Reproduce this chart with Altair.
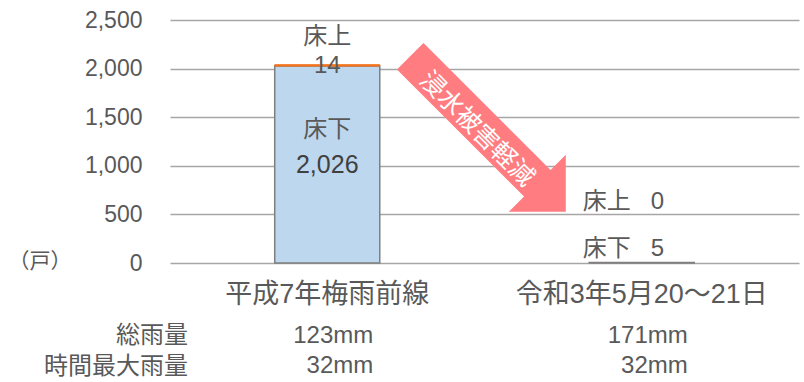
import altair as alt
import pandas as pd

# ---- data ----
categories = ["平成7年梅雨前線", "令和3年5月20～21日"]
series_names = ["床下", "床上"]
under_floor = [2026, 5]
above_floor = [14, 0]
row_titles = ["総雨量", "時間最大雨量"]
total_rain = ["123mm", "171mm"]
max_hourly_rain = ["32mm", "32mm"]
y_ticks = [0, 500, 1000, 1500, 2000, 2500]
unit_label = "（戸）"
arrow_label = "浸水被害軽減"

df = pd.DataFrame({
    "category": categories,
    "under": under_floor,
    "above": above_floor,
    "total_rain": total_rain,
    "max_rain": max_hourly_rain,
})
df["top"] = df["under"] + df["above"]
df["mid"] = df["under"] / 2
df["under_txt"] = df["under"].map(lambda v: f"{v:,}")
df["above_txt"] = df["above"].map(str)
NB = "\u00a0" * 3
df["above_line"] = series_names[1] + NB + df["above_txt"]
df["under_line"] = series_names[0] + NB + df["under_txt"]
df["idx"] = list(range(len(df)))
df["above_name"] = series_names[1]
df["under_name"] = series_names[0]

FONT = "Liberation Sans, Arial, Noto Sans CJK JP, sans-serif"
CJK = "Noto Sans CJK JP, sans-serif"
GREY = "#595959"

x_scale = alt.Scale(domain=categories, paddingInner=0.666, paddingOuter=0.333)
x_axis = alt.Axis(title=None, labelFontSize=27, labelColor=GREY, labelFont=FONT,
                  labelPadding=18, ticks=False, domain=False, labelAngle=0,
                  labelLimit=0, grid=False)
y_scale = alt.Scale(domain=[0, 2500], nice=False)
y_axis = alt.Axis(title=None, values=y_ticks, format=",.0f", labelFontSize=23,
                  labelColor=GREY, labelFont=FONT, labelPadding=28, ticks=False,
                  domain=False, grid=True, gridColor="#A6A6A6", gridWidth=1.3)


def X():
    return alt.X("category:N", scale=x_scale, axis=x_axis, sort=categories)


def Y(field):
    return alt.Y(field, scale=y_scale, axis=y_axis)


base = alt.Chart(df)

under_bar = base.mark_bar(fill="#BDD7EE", stroke="#7F7F7F", strokeWidth=1.5).encode(
    x=X(), y=Y("under:Q"))
above_bar = base.transform_filter(alt.datum.above > 0).mark_bar(
    fill="#F4731C", stroke="#F4731C", strokeWidth=1).encode(
    x=X(), y=Y("under:Q"), y2="top:Q")

first = base.transform_filter(alt.datum.idx == 0)
second = base.transform_filter(alt.datum.idx == 1)

lab_kw = dict(fontSize=24, font=FONT, color=GREY)
t_above_name = first.mark_text(dy=-28, **lab_kw).encode(x=X(), y=Y("top:Q"), text="above_name:N")
t_above_val = first.mark_text(dy=1, **lab_kw).encode(x=X(), y=Y("top:Q"), text="above_txt:N")
t_under_name = first.mark_text(dy=-35, **lab_kw).encode(x=X(), y=Y("mid:Q"), text="under_name:N")
t_under_val = first.mark_text(dy=0, fontSize=25, font=FONT, color="#404040").encode(
    x=X(), y=Y("mid:Q"), text="under_txt:N")
t2_above = second.mark_text(align="left", dx=-59, dy=-61, **lab_kw).encode(
    x=X(), y=Y("top:Q"), text="above_line:N")
t2_under = second.mark_text(align="left", dx=-59, dy=-14, **lab_kw).encode(
    x=X(), y=Y("top:Q"), text="under_line:N")

# rainfall rows below the axis
rain_kw = dict(fontSize=24, font=FONT, color=GREY, align="right", dx=46)
rain1 = base.mark_text(**rain_kw).encode(x=X(), y=alt.value(316), text="total_rain:N")
rain2 = base.mark_text(**rain_kw).encode(x=X(), y=alt.value(346), text="max_rain:N")

rows = pd.DataFrame({"title": row_titles, "r": [0, 1]})
row_kw = dict(fontSize=24, font=CJK, color=GREY, align="right")
row1 = alt.Chart(rows).transform_filter(alt.datum.r == 0).mark_text(**row_kw).encode(
    x=alt.value(18), y=alt.value(316), text="title:N")
row2 = alt.Chart(rows).transform_filter(alt.datum.r == 1).mark_text(**row_kw).encode(
    x=alt.value(18), y=alt.value(347), text="title:N")

unit = alt.Chart(pd.DataFrame({"u": [unit_label]})).mark_text(
    fontSize=21, font=CJK, color=GREY).encode(x=alt.value(-130), y=alt.value(242), text="u:N")

# arrow annotation (custom symbol pointing right, rotated 45 degrees)
arrow_path = ("M -1 -0.1705 L 0.634 -0.1705 L 0.634 -0.366 L 1 0 "
              "L 0.634 0.366 L 0.634 0.1705 L -1 0.1705 Z")
arrow_df = pd.DataFrame({"label": [arrow_label]})
arrow = alt.Chart(arrow_df).mark_point(
    shape=arrow_path, size=220 * 220, filled=True, fill="#FF7C80", opacity=1,
    fillOpacity=1, strokeWidth=0, angle=45).encode(
    x=alt.value(488 - 170), y=alt.value(134 - 20))
arrow_text = alt.Chart(arrow_df).mark_text(
    angle=45, fontSize=25, font=CJK, color="white").encode(
    x=alt.value(477 - 170), y=alt.value(129 - 20), text="label:N")

chart = alt.layer(
    under_bar, above_bar, arrow, arrow_text,
    t_above_name, t_above_val, t_under_name, t_under_val, t2_above, t2_under,
    rain1, rain2, row1, row2, unit,
).properties(
    width=629, height=243,
    autosize=alt.AutoSizeParams(type="none"),
    padding={"left": 170, "top": 20, "right": 5, "bottom": 119},
    background="white",
).configure_view(strokeWidth=0)

chart.save("out.html", embed_options={"renderer": "svg", "actions": False})
